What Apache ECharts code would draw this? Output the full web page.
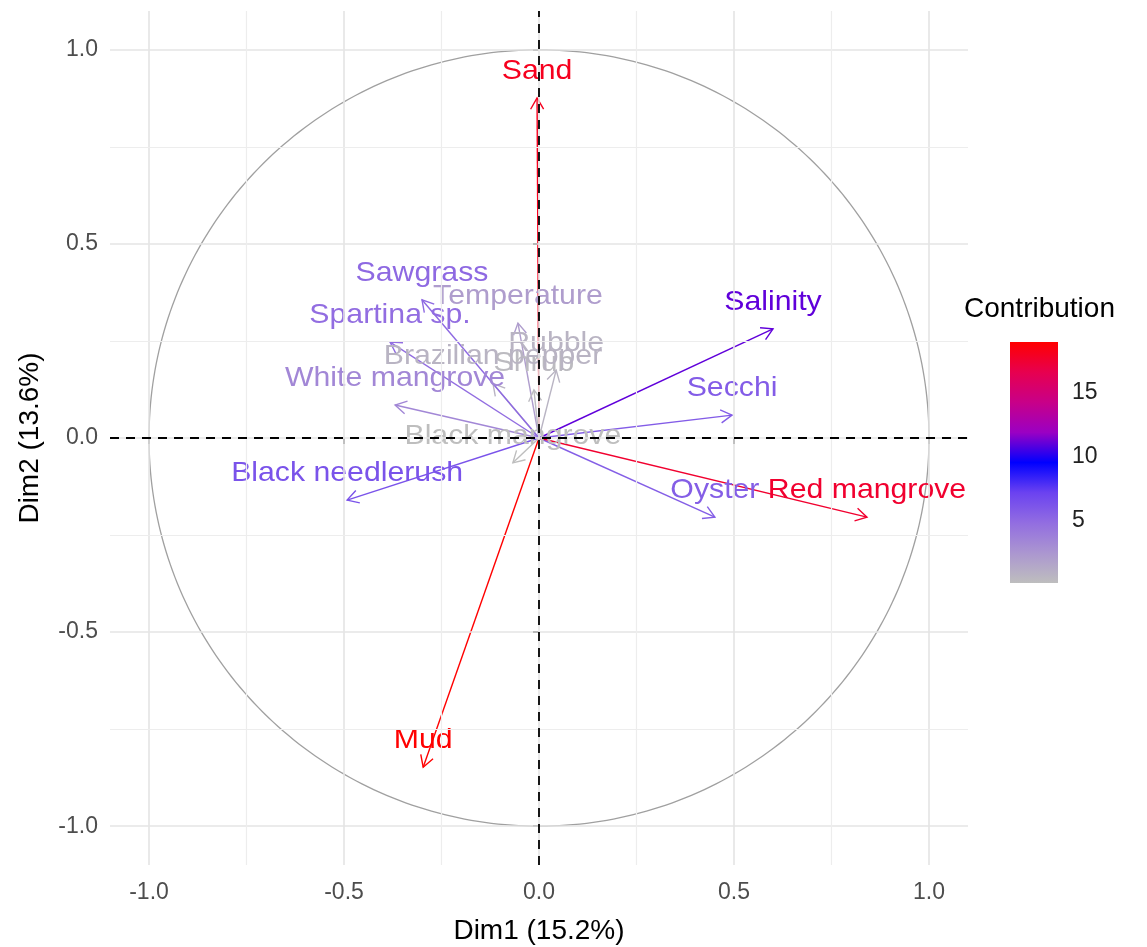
<!DOCTYPE html>
<html>
<head>
<meta charset="utf-8">
<script src="https://cdn.jsdelivr.net/npm/echarts@6/dist/echarts.min.js"></script>
<style>
  html, body { margin: 0; padding: 0; background: #ffffff; overflow: hidden; }
  #chart { width: 1147px; height: 947px; }
</style>
</head>
<body>
<div id="chart"></div>
<script>
// PCA variable correlation circle: loadings on Dim1 / Dim2, coloured by contribution
const varNames = ['Salinity', 'Temperature', 'Secchi', 'Sand', 'Mud', 'Rubble', 'Oyster', 'Shrub',
  'Brazilian pepper', 'Black needlerush', 'Sawgrass', 'Spartina sp.', 'White mangrove',
  'Black mangrove', 'Red mangrove'];
const dim1 = [0.600, -0.054, 0.495, -0.005, -0.297, 0.044, 0.451, -0.013,
  -0.118, -0.492, -0.300, -0.382, -0.369, -0.067, 0.841];
const dim2 = [0.281, 0.296, 0.059, 0.876, -0.848, 0.175, -0.204, 0.124,
  0.140, -0.160, 0.356, 0.247, 0.085, -0.064, -0.204];
const contrib = [11.0, 2.1, 5.8, 18.0, 18.9, 0.8, 5.7, 0.4,
  0.8, 6.3, 5.1, 4.9, 3.4, 0.2, 17.5];

const axisTicks = [-1, -0.5, 0, 0.5, 1];
const minorGrid = [-0.75, -0.25, 0.25, 0.75];
const legendTicks = [5, 10, 15];
// grey -> blue -> red ramp (Lab-like intermediate stops)
const palette = ['#BEBEBE', '#AB96D0', '#926DE1', '#6B42F0', '#0000FF',
  '#9B00C3', '#C80088', '#E7004F', '#FF0000'];

const FONT = '"Liberation Sans", Arial, sans-serif';
const cMin = Math.min(...contrib);
const cMax = Math.max(...contrib);

const chart = echarts.init(document.getElementById('chart'), null, { renderer: 'canvas' });

const gridLines = [];
axisTicks.forEach(v => {
  gridLines.push({ xAxis: v, lineStyle: { color: '#E4E4E4', width: 1.6, type: 'solid' } });
  gridLines.push({ yAxis: v, lineStyle: { color: '#E4E4E4', width: 1.6, type: 'solid' } });
});
minorGrid.forEach(v => {
  gridLines.push({ xAxis: v, lineStyle: { color: '#EDEDED', width: 1.2, type: 'solid' } });
  gridLines.push({ yAxis: v, lineStyle: { color: '#EDEDED', width: 1.2, type: 'solid' } });
});

const varData = varNames.map((n, i) => ({ name: n, value: [dim1[i], dim2[i], contrib[i]] }));

function renderArrow(params, api) {
  const p0 = api.coord([0, 0]);
  const p1 = api.coord([api.value(0), api.value(1)]);
  const color = api.visual('color');
  const a = Math.atan2(p1[1] - p0[1], p1[0] - p0[0]);
  const L = 13, w = Math.PI / 6;
  const h1 = [p1[0] - L * Math.cos(a - w), p1[1] - L * Math.sin(a - w)];
  const h2 = [p1[0] - L * Math.cos(a + w), p1[1] - L * Math.sin(a + w)];
  return {
    type: 'group',
    children: [
      { type: 'line', shape: { x1: p0[0], y1: p0[1], x2: p1[0], y2: p1[1] },
        style: { stroke: color, lineWidth: 1.4 } },
      { type: 'polyline', shape: { points: [h1, p1, h2] },
        style: { stroke: color, lineWidth: 1.4, fill: null } }
    ]
  };
}

function renderLabel(params, api) {
  const p1 = api.coord([api.value(0), api.value(1)]);
  return {
    type: 'text',
    x: p1[0], y: p1[1] - 27,
    scaleX: 1.08,
    style: {
      text: varNames[params.dataIndex],
      fill: api.visual('color'),
      font: '28px ' + FONT,
      align: 'center', verticalAlign: 'middle'
    }
  };
}

function renderCircle(params, api) {
  const r = api.value(0);
  const pts = [];
  for (let k = 0; k <= 360; k++) {
    const t = k * Math.PI / 180;
    pts.push(api.coord([r * Math.cos(t), r * Math.sin(t)]));
  }
  return { type: 'polyline', shape: { points: pts },
    style: { stroke: '#A0A0A0', lineWidth: 1.3, fill: null } };
}

function renderColorbar(params, api) {
  const lo = api.coord([0, api.value(0)]);
  const hi = api.coord([1, api.value(1)]);
  const stops = palette.map((c, i) => ({ offset: i / (palette.length - 1), color: c }));
  return {
    type: 'rect',
    shape: { x: lo[0], y: hi[1], width: hi[0] - lo[0], height: lo[1] - hi[1] },
    style: { fill: new echarts.graphic.LinearGradient(0, 1, 0, 0, stops) }
  };
}

const option = {
  backgroundColor: '#ffffff',
  animation: false,
  title: {
    text: 'Contribution', left: 964, top: 295, padding: 0,
    textStyle: { fontFamily: FONT, fontSize: 28, fontWeight: 'normal', color: '#000000' }
  },
  grid: [
    { left: 110, right: 179, top: 11, bottom: 82, outerBoundsMode: 'none', containLabel: false },
    { left: 1010, top: 342, width: 48, height: 241, outerBoundsMode: 'none', containLabel: false }
  ],
  xAxis: [
    {
      type: 'value', gridIndex: 0, min: -1.1, max: 1.1,
      name: 'Dim1 (15.2%)', nameLocation: 'middle', nameGap: 52,
      nameTextStyle: { fontFamily: FONT, fontSize: 28, color: '#000000' },
      axisLine: { show: false },
      axisTick: { show: true, customValues: axisTicks, length: 6,
        lineStyle: { color: '#333333', width: 2 } },
      axisLabel: { customValues: axisTicks, margin: 16, fontFamily: FONT, fontSize: 23,
        color: '#4D4D4D', formatter: v => v.toFixed(1) },
      splitLine: { show: false }
    },
    { type: 'value', gridIndex: 1, min: 0, max: 1, show: false }
  ],
  yAxis: [
    {
      type: 'value', gridIndex: 0, min: -1.1, max: 1.1,
      name: 'Dim2 (13.6%)', nameLocation: 'middle', nameGap: 66, nameRotate: 90,
      nameTextStyle: { fontFamily: FONT, fontSize: 28, color: '#000000' },
      axisLine: { show: false },
      axisTick: { show: true, customValues: axisTicks, length: 6,
        lineStyle: { color: '#333333', width: 2 } },
      axisLabel: { customValues: axisTicks, margin: 12, fontFamily: FONT, fontSize: 23,
        color: '#4D4D4D', formatter: v => v.toFixed(1) },
      splitLine: { show: false }
    },
    {
      type: 'value', gridIndex: 1, min: cMin, max: cMax, position: 'right',
      axisLine: { show: false },
      axisTick: { show: true, inside: true, customValues: legendTicks, length: 10,
        lineStyle: { color: '#ffffff', width: 1.5 } },
      axisLabel: { customValues: legendTicks, margin: 14, fontFamily: FONT, fontSize: 23,
        color: '#222222' },
      splitLine: { show: false }
    },
    {
      type: 'value', gridIndex: 1, min: cMin, max: cMax, position: 'left',
      axisLine: { show: false },
      axisTick: { show: true, inside: true, customValues: legendTicks, length: 10,
        lineStyle: { color: '#ffffff', width: 1.5 } },
      axisLabel: { show: false },
      splitLine: { show: false }
    }
  ],
  visualMap: {
    type: 'continuous', show: false, min: cMin, max: cMax, dimension: 2,
    seriesIndex: [2, 3], inRange: { color: palette }
  },
  series: [
    { // panel grid
      type: 'scatter', xAxisIndex: 0, yAxisIndex: 0, data: [], z: 0, silent: true,
      markLine: { silent: true, symbol: 'none', label: { show: false }, data: gridLines,
        animation: false }
    },
    { // unit circle
      type: 'custom', xAxisIndex: 0, yAxisIndex: 0, z: 1, silent: true,
      renderItem: renderCircle, data: [[1]]
    },
    { // variable arrows
      type: 'custom', xAxisIndex: 0, yAxisIndex: 0, z: 2, silent: true,
      renderItem: renderArrow, data: varData
    },
    { // variable labels
      type: 'custom', xAxisIndex: 0, yAxisIndex: 0, z: 3, silent: true,
      renderItem: renderLabel, data: varData
    },
    { // dashed reference lines through the origin
      type: 'scatter', xAxisIndex: 0, yAxisIndex: 0, data: [], z: 4, silent: true,
      markLine: { silent: true, symbol: 'none', label: { show: false }, animation: false,
        lineStyle: { color: '#000000', width: 1.8, type: [9, 7] },
        data: [{ xAxis: 0 }, { yAxis: 0 }] }
    },
    { // contribution colour bar
      type: 'custom', xAxisIndex: 1, yAxisIndex: 1, z: 1, silent: true,
      renderItem: renderColorbar, data: [[cMin, cMax]]
    }
  ]
};

chart.setOption(option);
</script>
</body>
</html>
